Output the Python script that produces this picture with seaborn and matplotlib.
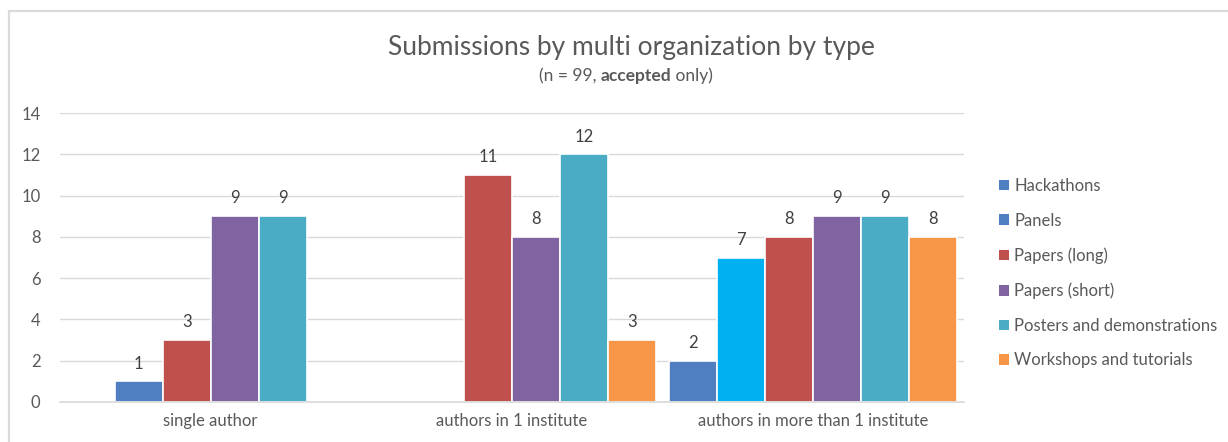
import matplotlib
matplotlib.use("Agg")
import matplotlib.pyplot as plt
from matplotlib.patches import Patch
from matplotlib.lines import Line2D
import seaborn as sns
import pandas as pd

# Categories and series
categories = ["single author", "authors in 1 institute", "authors in more than 1 institute"]
series = ["Hackathons", "Panels", "Papers (long)", "Papers (short)",
          "Posters and demonstrations", "Workshops and tutorials"]
hackathons = [0, 0, 2]
panels = [1, 0, 7]
papers_long = [3, 11, 8]
papers_short = [9, 8, 9]
posters = [9, 12, 9]
workshops = [0, 3, 8]

colors = ["#4F7FC0", "#4F7FC0", "#C0504D", "#8064A2", "#4BACC6", "#F79646"]
panels_highlight = "#00B0F0"

values = [hackathons, panels, papers_long, papers_short, posters, workshops]
rows = []
for name, vals in zip(series, values):
    for cat, v in zip(categories, vals):
        rows.append({"category": cat, "type": name, "count": v})
df = pd.DataFrame(rows)

sns.set_theme(style="white")
plt.rcParams["font.family"] = ["Lato", "DejaVu Sans"]

W, H = 1228, 442
fig = plt.figure(figsize=(W / 100, H / 100), dpi=100)
ax = fig.add_axes([60 / W, 40 / H, (964 - 60) / W, (402 - 113) / H])

sns.barplot(data=df, x="category", y="count", hue="type", order=categories,
            hue_order=series, palette=colors, saturation=1, width=0.955, gap=0,
            edgecolor="white", linewidth=1.2, legend=False, ax=ax, errorbar=None)

# Panels bar in the last group uses a brighter blue
ax.containers[1][2].set_facecolor(panels_highlight)

label_color = "#404040"
for cont, vals in zip(ax.containers, values):
    labels = [str(v) if v > 0 else "" for v in vals]
    ax.bar_label(cont, labels=labels, padding=7, fontsize=12, color=label_color)

ax.set_ylim(0, 14)
ax.set_yticks(range(0, 15, 2))
ax.set_xlim(-0.5, 2.5)
ax.yaxis.grid(True, color="#D9D9D9", linewidth=1)
ax.set_axisbelow(True)
for s in ["top", "right", "left"]:
    ax.spines[s].set_visible(False)
ax.spines["bottom"].set_color("#D9D9D9")
ax.spines["bottom"].set_linewidth(1.2)
ax.set_xlabel("")
ax.set_ylabel("")
ax.tick_params(axis="y", length=0, pad=14, labelsize=12, labelcolor="#595959")
ax.tick_params(axis="x", length=0, pad=8, labelsize=12, labelcolor="#595959")
ax.set_xticks([-0.5, 0.5, 1.5, 2.5], minor=True)
ax.tick_params(axis="x", which="minor", length=5, direction="inout",
               color="#D9D9D9", width=1)

# Chart frame
fig.add_artist(Line2D([9 / W, 9 / W], [0, 1 - 11 / H], transform=fig.transFigure,
                      color="#DADADA", linewidth=1.6))
fig.add_artist(Line2D([9 / W, 1], [1 - 11 / H, 1 - 11 / H], transform=fig.transFigure,
                      color="#DADADA", linewidth=1.6))

# Title and subtitle
title_color = "#595959"
fig.text(631 / W, 1 - 48 / H, "Submissions by multi organization by type",
         ha="center", va="center", fontsize=19, color=title_color)
mid = fig.text(636 / W, 1 - 76 / H, "accepted", ha="center", va="center",
               fontsize=12.5, fontweight="bold", color=title_color)
ax.annotate("(n = 99, ", xy=(0, 0), xycoords=mid, ha="right", va="bottom",
            fontsize=12.5, color=title_color, annotation_clip=False)
ax.annotate(" only)", xy=(1, 0), xycoords=mid, ha="left", va="bottom",
            fontsize=12.5, color=title_color, annotation_clip=False)

# Legend
handles = [Patch(facecolor=c, edgecolor="none") for c in colors]
fig.legend(handles, series, loc="upper left", bbox_to_anchor=(984 / W, 1 - 163 / H),
           frameon=False, fontsize=12, labelcolor="#595959",
           handlelength=0.6, handleheight=0.6, handletextpad=0.3, labelspacing=1.12)

fig.savefig("out.png", dpi=100, facecolor="white")
